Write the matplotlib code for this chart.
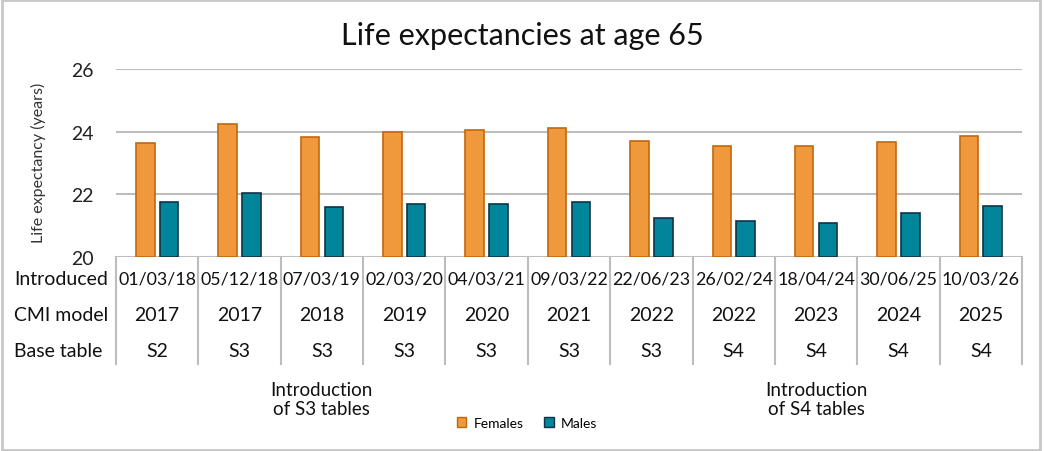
import matplotlib
matplotlib.use('Agg')
import numpy as np
import matplotlib.pyplot as plt
import matplotlib.transforms as mtransforms
from matplotlib.patches import Patch, Rectangle

# data
introduced = ['01/03/18', '05/12/18', '07/03/19', '02/03/20', '04/03/21', '09/03/22',
              '22/06/23', '26/02/24', '18/04/24', '30/06/25', '10/03/26']
cmi_model = ['2017', '2017', '2018', '2019', '2020', '2021', '2022', '2022', '2023', '2024', '2025']
base_table = ['S2', 'S3', 'S3', 'S3', 'S3', 'S3', 'S3', 'S4', 'S4', 'S4', 'S4']
females = [23.65, 24.26, 23.83, 24.00, 24.06, 24.11, 23.69, 23.54, 23.54, 23.66, 23.86]
males = [21.76, 22.05, 21.58, 21.70, 21.70, 21.76, 21.24, 21.16, 21.07, 21.39, 21.63]
row_labels = ['Introduced', 'CMI model', 'Base table']

plt.rcParams['font.family'] = ['Lato', 'DejaVu Sans']

orange = '#F0993C'
orange_edge = '#C2670E'
teal = '#00859B'
teal_edge = '#0E3348'
grid_col = '#BDBDBD'

fig = plt.figure(figsize=(10.44, 4.52), dpi=100)
ax = fig.add_axes([116/1044, 1-258/452, (1022-116)/1044, (258-70)/452])

x = np.arange(len(introduced))
w = 0.225
off = 0.145
ax.bar(x-off, [f-20 for f in females], w, bottom=20, color=orange, edgecolor=orange_edge, linewidth=1.2, zorder=3)
ax.bar(x+off, [m-20 for m in males], w, bottom=20, color=teal, edgecolor=teal_edge, linewidth=1.2, zorder=3)

ax.set_xlim(-0.5, len(introduced)-0.5)
ax.set_ylim(20, 26)
ax.set_yticks([20, 22, 24, 26])
ax.tick_params(axis='y', length=0, labelsize=14, pad=16, colors='#222222')
ax.set_xticks([])
for s in ax.spines.values():
    s.set_visible(False)
for yv in [20, 22, 24, 26]:
    ax.axhline(yv, color=grid_col, linewidth=1.5, zorder=1)

fig.text(38/1044, 1-163/452, 'Life expectancy (years)', rotation=90, ha='center', va='center',
         fontsize=11.5, color='#333333')
fig.text(522/1044, 1-36/452, 'Life expectancies at age 65', ha='center', va='center', fontsize=22, color='#111111')

# table under the axis
tr = mtransforms.blended_transform_factory(ax.transData, fig.transFigure)
row_y = [280, 316, 352]
row_fs = [12.8, 14, 14]
for i in range(len(introduced) + 1):
    ax.plot([i-0.5, i-0.5], [1-258/452, 1-365/452], transform=tr, color=grid_col, linewidth=1.5, clip_on=False)
for i in range(len(introduced)):
    for vals, yy, fs in zip([introduced, cmi_model, base_table], row_y, row_fs):
        ax.text(i, 1-yy/452, vals[i], transform=tr, ha='center', va='center', fontsize=fs, color='#111111')
for lab, yy in zip(row_labels, row_y):
    fig.text(14/1044, 1-yy/452, lab, ha='left', va='center', fontsize=14, color='#111111')

ax.text(2, 1-400/452, 'Introduction\nof S3 tables', transform=tr, ha='center', va='center', fontsize=13.5,
        linespacing=1.2, color='#111111')
ax.text(8, 1-400/452, 'Introduction\nof S4 tables', transform=tr, ha='center', va='center', fontsize=13.5,
        linespacing=1.2, color='#111111')

handles = [Patch(facecolor=orange, edgecolor=orange_edge), Patch(facecolor=teal, edgecolor=teal_edge)]
fig.legend(handles, ['Females', 'Males'], loc='center', bbox_to_anchor=(527/1044, 1-424/452), ncol=2,
           frameon=False, fontsize=10, handlelength=0.7, handleheight=0.7, handletextpad=0.5, columnspacing=1.5)

fig.patches.append(Rectangle((0.002, 0.003), 0.994, 0.994, transform=fig.transFigure, fill=False,
                             edgecolor='#C8C8C8', linewidth=2))

fig.savefig('out.png', dpi=100)
